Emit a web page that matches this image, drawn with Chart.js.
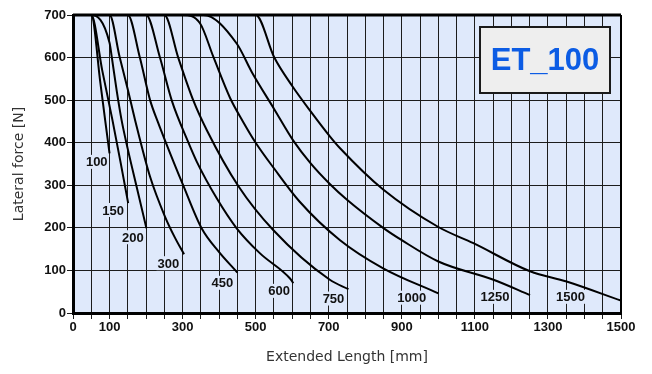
<!DOCTYPE html>
<html>
<head>
<meta charset="utf-8">
<script src="https://cdn.jsdelivr.net/npm/chart.js@4/dist/chart.umd.min.js"></script>
<style>
  html, body { margin: 0; padding: 0; background: #fff; }
</style>
</head>
<body>
<canvas id="forceChart" width="652" height="374"></canvas>
<script>
// stroke lengths (one curve each) and the points
const strokes = [100, 150, 200, 300, 450, 600, 750, 1000, 1250, 1500];

const len100 = [0, 50, 75, 88, 100];
const force100 = [700, 700, 540, 453, 375];

const len150 = [0, 50, 80, 108, 130, 151];
const force150 = [700, 700, 570, 453, 355, 258];

const len200 = [0, 50, 100, 106, 120, 133, 150, 174, 201];
const force200 = [700, 700, 635, 602, 520, 453, 385, 297, 199];

const len300 = [0, 100, 128, 150, 170, 211, 252, 279, 304];
const force300 = [700, 700, 600, 525, 453, 320, 226, 177, 138];

const len450 = [0, 150, 183, 211, 233, 252, 302, 352, 400, 450];
const force450 = [700, 700, 600, 500, 447, 405, 299, 199, 143, 95];

const len600 = [0, 200, 238, 270, 316, 339, 393, 448, 512, 594, 603];
const force600 = [700, 700, 600, 500, 400, 355, 270, 199, 140, 81, 70];

const len750 = [0, 250, 288, 329, 366, 452, 548, 703, 754];
const force750 = [700, 700, 600, 500, 430, 299, 195, 78, 56];

const len1000 = [0, 300, 348, 384, 430, 465, 500, 550, 620, 731, 849, 1000];
const force1000 = [700, 700, 680, 602, 505, 450, 400, 340, 262, 171, 105, 46];

const len1250 = [0, 357, 448, 490, 550, 603, 650, 703, 750, 849, 900, 1000, 1151, 1251];
const force1250 = [700, 700, 633, 565, 480, 405, 352, 303, 266, 200, 171, 121, 78, 42];

const len1500 = [0, 500, 551, 601, 651, 703, 731, 849, 1000, 1096, 1251, 1351, 1500];
const force1500 = [700, 700, 600, 532, 473, 415, 387, 290, 202, 164, 98, 74, 29];

const xTickLabels = [0, 100, 300, 500, 700, 900, 1100, 1300, 1500];

const lens = [len100, len150, len200, len300, len450, len600, len750, len1000, len1250, len1500];
const forces = [force100, force150, force200, force300, force450, force600, force750, force1000, force1250, force1500];

// where each stroke label sits (data coords)
const labelAt = [[65, 355], [110, 242], [164, 178], [261, 117], [409, 71], [564, 52], [713, 34], [927, 36], [1155, 38], [1362, 38]];

const plotBg = '#dfe9fb';
const tickFont = { family: 'Liberation Sans', weight: 'bold', size: 13 };
const titleFont = { family: 'DejaVu Sans', size: 14 };

const plotBackground = {
  id: 'plotBackground',
  beforeDraw(chart) {
    const { ctx, chartArea: a } = chart;
    ctx.save();
    ctx.fillStyle = plotBg;
    ctx.fillRect(a.left, a.top, a.right - a.left, a.bottom - a.top);
    ctx.restore();
  }
};

const frameAndLabels = {
  id: 'frameAndLabels',
  afterDatasetsDraw(chart) {
    const { ctx, chartArea: a, scales } = chart;
    ctx.save();
    // top and right edges of the frame
    ctx.strokeStyle = '#000';
    ctx.lineWidth = 3;
    ctx.beginPath();
    ctx.moveTo(a.left, a.top);
    ctx.lineTo(a.right, a.top);
    ctx.stroke();
    ctx.lineWidth = 2;
    ctx.beginPath();
    ctx.moveTo(a.right, a.top);
    ctx.lineTo(a.right, a.bottom);
    ctx.stroke();

    // stroke labels with a plot coloured patch behind them
    ctx.font = 'bold 13px "Liberation Sans"';
    ctx.textAlign = 'center';
    ctx.textBaseline = 'middle';
    strokes.forEach((s, i) => {
      const px = scales.x.getPixelForValue(labelAt[i][0]);
      const py = scales.y.getPixelForValue(labelAt[i][1]);
      const w = ctx.measureText(String(s)).width;
      ctx.fillStyle = plotBg;
      ctx.fillRect(px - w / 2 - 1, py - 7, w + 2, 14);
      ctx.fillStyle = '#111';
      ctx.fillText(String(s), px, py + 1);
    });

    // model box
    const bx = 480, by = 27, bw = 130, bh = 66;
    ctx.fillStyle = '#eeeeee';
    ctx.fillRect(bx, by, bw, bh);
    ctx.strokeStyle = '#1a1a1a';
    ctx.lineWidth = 2;
    ctx.strokeRect(bx, by, bw, bh);
    ctx.fillStyle = '#0c5ce4';
    ctx.font = 'bold 31px "Liberation Sans"';
    ctx.fillText('ET_100', bx + bw / 2, by + bh / 2 + 1);
    ctx.restore();
  }
};

const ctx = document.getElementById('forceChart').getContext('2d');
const forceChart = new Chart(ctx, {
  type: 'line',
  data: {
    datasets: strokes.map((s, i) => ({
      label: String(s),
      data: lens[i].map((x, j) => ({ x: x, y: forces[i][j] })),
      borderColor: '#000',
      borderWidth: 2,
      pointRadius: 0,
      fill: false,
      cubicInterpolationMode: 'monotone'
    }))
  },
  options: {
    responsive: false,
    animation: false,
    layout: { padding: { top: 15, right: 31, left: 0, bottom: 0 } },
    plugins: { legend: { display: false }, tooltip: { enabled: false } },
    scales: {
      x: {
        type: 'linear',
        min: 0,
        max: 1500,
        afterFit: s => { s.height = 61; },
        ticks: {
          stepSize: 50,
          autoSkip: false,
          maxRotation: 0,
          padding: 1,
          color: '#111',
          font: tickFont,
          callback: v => xTickLabels.includes(v) ? String(v) : ''
        },
        grid: { color: '#1c1c1c', lineWidth: 1, tickLength: 6 },
        border: { color: '#000', width: 3 },
        title: {
          display: true,
          text: 'Extended Length [mm]',
          color: '#333',
          font: titleFont,
          padding: { top: 0, bottom: 8 }
        }
      },
      y: {
        min: 0,
        max: 700,
        afterFit: s => { s.width = 73; },
        ticks: { stepSize: 100, padding: 1, color: '#111', font: tickFont },
        grid: { color: '#1c1c1c', lineWidth: 1, tickLength: 6 },
        border: { color: '#000', width: 3 },
        title: {
          display: true,
          text: 'Lateral force [N]',
          color: '#333',
          font: titleFont,
          padding: { top: 11, bottom: 0 }
        }
      }
    }
  },
  plugins: [plotBackground, frameAndLabels]
});
</script>
</body>
</html>
